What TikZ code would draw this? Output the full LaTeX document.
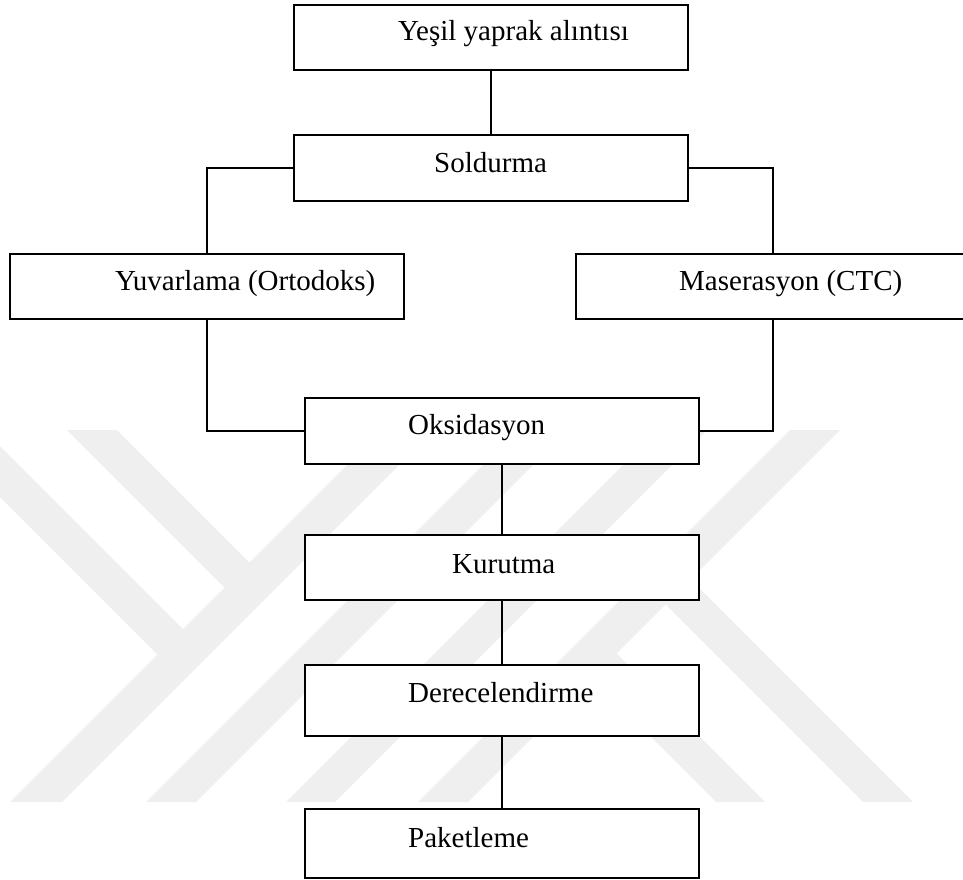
\documentclass[tikz,border=0pt]{standalone}
\usepackage{fontspec}
\setmainfont{Liberation Serif}
\definecolor{wmgray}{RGB}{239,239,239}
\begin{document}
\begin{tikzpicture}[x=1pt,y=-1pt,
  stage/.style={draw=black, line width=1.8pt, fill=white, rectangle,
    inner sep=0pt, minimum width=394pt, anchor=north west},
  lbl/.style={anchor=base west, inner sep=0pt, font=\fontsize{29}{34}\selectfont},
  link/.style={draw=black, line width=1.4pt},
  band/.style={fill=wmgray, draw=none}]

\useasboundingbox (0,0) rectangle (963,880);
\clip (0,0) rectangle (963,880);

% faint background emblem made of diagonal stripes
\fill[band] (10,802) -- (62,802) -- (434,430) -- (382,430) -- cycle;
\fill[band] (146,802) -- (196,802) -- (568,430) -- (518,430) -- cycle;
\fill[band] (286,802) -- (335,802) -- (707,430) -- (658,430) -- cycle;
\fill[band] (418,802) -- (468,802) -- (840,430) -- (790,430) -- cycle;
\fill[band] (67,430) -- (117,430) -- (262,575) -- (237,600) -- cycle;
\fill[band] (-67,430) -- (-16,430) -- (195.5,641.5) -- (170,667) -- cycle;
\fill[band] (579.5,665.5) -- (604,641) -- (765,802) -- (716,802) -- cycle;
\fill[band] (653,592) -- (678,567) -- (913,802) -- (863,802) -- cycle;

% process boxes
\node[stage, minimum height=65pt] (s1) at (293,4)   {};
\node[stage, minimum height=66pt] (s2) at (293,134) {};
\node[stage, minimum height=65pt] (s3) at (9,253)   {};
\node[stage, minimum height=65pt] (s4) at (575,253) {};
\node[stage, minimum height=66pt] (s5) at (304,397) {};
\node[stage, minimum height=65pt] (s6) at (304,534) {};
\node[stage, minimum height=71pt] (s7) at (304,664) {};
\node[stage, minimum height=69pt] (s8) at (304,808) {};

% box captions
\node[lbl] (t1) at (398,41)  {Yeşil yaprak alıntısı};
\node[lbl] (t2) at (434,172) {Soldurma};
\node[lbl] (t3) at (115,290) {Yuvarlama (Ortodoks)};
\node[lbl] (t4) at (679,290) {Maserasyon (CTC)};
\node[lbl] (t5) at (408,434) {Oksidasyon};
\node[lbl] (t6) at (452,573) {Kurutma};
\node[lbl] (t7) at (408,702) {Derecelendirme};
\node[lbl] (t8) at (408,847) {Paketleme};

% connectors
\draw[link] (s1.south) -- (s2.north);
\draw[link] (s2.west) -| (s3.north);
\draw[link] (s2.east) -| (s4.north);
\draw[link] (s3.south) |- (s5.west);
\draw[link] (s4.south) |- (s5.east);
\draw[link] (s5.south) -- (s6.north);
\draw[link] (s6.south) -- (s7.north);
\draw[link] (s7.south) -- (s8.north);
\end{tikzpicture}
\end{document}
